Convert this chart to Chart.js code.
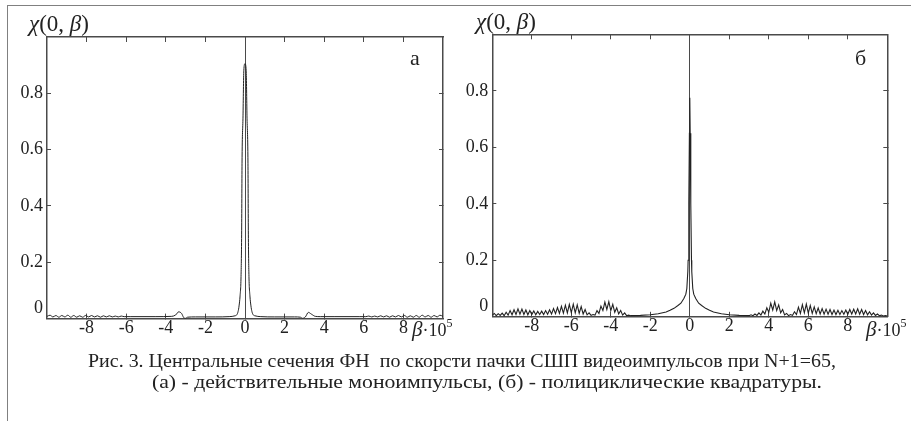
<!DOCTYPE html>
<html>
<head>
<meta charset="utf-8">
<script src="https://cdn.jsdelivr.net/npm/chart.js@4.4.0/dist/chart.umd.min.js"></script>
<style>
  html, body { margin: 0; padding: 0; background: #fff; }
  #page { position: relative; width: 911px; height: 421px; overflow: hidden;
          font-family: "Liberation Serif", "Times New Roman", serif; color: #222; }
  #frame { position: absolute; left: 7px; top: 5px; width: 950px; height: 450px;
           border-left: 1.5px solid #808080; border-top: 1.5px solid #808080; }
  canvas { position: absolute; top: 0; }
  .lbl { position: absolute; white-space: pre; line-height: 1; }
  .chi { font-size: 23px; }
  .beta { font-size: 21px; }
  .beta sup { font-size: 12px; vertical-align: 9px; }
  .beta span { font-size: 18px; }
  .panel { font-size: 22px; }
  .cap { font-size: 19px; transform-origin: 0 50%; }
</style>
</head>
<body>
<div id="page">
  <div id="frame"></div>
  <canvas id="chartA" width="460" height="421" style="left:0"></canvas>
  <canvas id="chartB" width="461" height="421" style="left:450px"></canvas>

  <div class="lbl chi" style="left:29px;top:12px"><i>χ</i>(0, <i>β</i>)</div>
  <div class="lbl chi" style="left:476px;top:10px"><i>χ</i>(0, <i>β</i>)</div>
  <div class="lbl panel" style="left:410px;top:47px">а</div>
  <div class="lbl panel" style="left:855px;top:47px">б</div>
  <div class="lbl beta" style="left:412px;top:317px"><i>β</i><span>·10</span><sup>5</sup></div>
  <div class="lbl beta" style="left:866px;top:317px"><i>β</i><span>·10</span><sup>5</sup></div>

  <div class="lbl cap" data-w="748" style="left:88px;top:351px">Рис. 3. Центральные сечения ФН  по скорсти пачки СШП видеоимпульсов при N+1=65,</div>
  <div class="lbl cap" data-w="670" style="left:152px;top:372px">(а) - действительные моноимпульсы, (б) - полициклические квадратуры.</div>
</div>

<script>
// (а) real monopulses
const betaA = [
  -10.0, -9.85, -9.7, -9.55, -9.4, -9.25, -9.1, -8.95, -8.8, -8.65, -8.5, -8.35, -8.2, -8.05,
  -7.9, -7.75, -7.6, -7.45, -7.3, -7.15, -7.0, -6.85, -6.7, -6.55, -6.4, -6.25, -6.1,
  -5.8, -4.5, -3.7, -3.5, -3.35, -3.2, -3.1, -3.0, -2.9, -2.5, -1.5, -0.8, -0.5,
  -0.42, -0.35, -0.3, -0.25, -0.2, -0.17, -0.15, -0.1, -0.06, 0,
  0.06, 0.1, 0.15, 0.17, 0.2, 0.25, 0.3, 0.35, 0.42,
  0.5, 0.8, 1.5, 2.5, 2.8, 2.9, 3.05, 3.2, 3.35, 3.55, 3.8, 4.5, 5.8,
  6.1, 6.25, 6.4, 6.55, 6.7, 6.85, 7.0, 7.15, 7.3, 7.45, 7.6, 7.75, 7.9,
  8.05, 8.2, 8.35, 8.5, 8.65, 8.8, 8.95, 9.1, 9.25, 9.4, 9.55, 9.7, 9.85, 10.0
];
const chiA = [
  0.008, 0.012, 0.006, 0.011, 0.005, 0.011, 0.006, 0.012, 0.005, 0.011, 0.005, 0.010, 0.005, 0.011,
  0.006, 0.011, 0.006, 0.010, 0.005, 0.010, 0.006, 0.010, 0.006, 0.009, 0.006, 0.009, 0.007,
  0.007, 0.007, 0.008, 0.013, 0.024, 0.018, 0.004, 0.001, 0.005, 0.006, 0.006, 0.007, 0.010,
  0.013, 0.025, 0.045, 0.08, 0.15, 0.3, 0.55, 0.72, 0.88, 0.905,
  0.88, 0.72, 0.55, 0.3, 0.15, 0.08, 0.045, 0.025, 0.013,
  0.010, 0.007, 0.006, 0.006, 0.005, 0.001, 0.006, 0.022, 0.016, 0.008, 0.007, 0.007, 0.007,
  0.007, 0.009, 0.006, 0.009, 0.006, 0.010, 0.006, 0.010, 0.005, 0.010, 0.006, 0.011, 0.006,
  0.011, 0.005, 0.010, 0.005, 0.011, 0.005, 0.012, 0.006, 0.011, 0.005, 0.011, 0.006, 0.012, 0.008
];

// (б) polycyclic quadratures
const betaB = [
  -10.0, -9.9, -9.8, -9.7, -9.6, -9.5, -9.4, -9.3, -9.2, -9.1, -9.0, -8.9, -8.8, -8.7, -8.6,
  -8.5, -8.4, -8.3, -8.2, -8.1, -8.0, -7.9, -7.8, -7.7, -7.6, -7.5, -7.4, -7.3, -7.2, -7.1,
  -7.0, -6.9, -6.8, -6.7, -6.6, -6.5, -6.4, -6.3, -6.2, -6.1, -6.0, -5.9, -5.8, -5.7, -5.6,
  -5.5, -5.4, -5.3, -5.2, -5.1, -5.0, -4.9, -4.8, -4.7, -4.6, -4.5, -4.4, -4.3, -4.2, -4.1,
  -4.0, -3.9, -3.8, -3.7, -3.6, -3.5, -3.4, -3.3, -3.2, -3.1, -3.0,
  -2.5, -2.0, -1.6, -1.2, -1.0, -0.8, -0.6, -0.45, -0.3, -0.2, -0.15, -0.1, -0.085, -0.05, -0.02, 0,
  0.02, 0.05, 0.085, 0.1, 0.15, 0.2, 0.3, 0.45, 0.6, 0.8, 1.0, 1.2, 1.6, 2.0, 2.5,
  3.0, 3.1, 3.2, 3.3, 3.4, 3.5, 3.6, 3.7, 3.8, 3.9, 4.0, 4.1, 4.2, 4.3, 4.4,
  4.5, 4.6, 4.7, 4.8, 4.9, 5.0, 5.1, 5.2, 5.3, 5.4, 5.5, 5.6, 5.7, 5.8, 5.9,
  6.0, 6.1, 6.2, 6.3, 6.4, 6.5, 6.6, 6.7, 6.8, 6.9, 7.0, 7.1, 7.2, 7.3, 7.4,
  7.5, 7.6, 7.7, 7.8, 7.9, 8.0, 8.1, 8.2, 8.3, 8.4, 8.5, 8.6, 8.7, 8.8, 8.9,
  9.0, 9.1, 9.2, 9.3, 9.4, 9.5, 9.6, 9.7, 9.8, 9.9, 10.0
];
const chiB = [
  0.006, 0.012, 0.004, 0.011, 0.005, 0.013, 0.004, 0.016, 0.006, 0.022, 0.007, 0.025, 0.008, 0.028, 0.009,
  0.027, 0.008, 0.024, 0.007, 0.022, 0.008, 0.021, 0.007, 0.019, 0.008, 0.020, 0.008, 0.022, 0.009, 0.025,
  0.010, 0.029, 0.011, 0.033, 0.012, 0.037, 0.013, 0.041, 0.014, 0.044, 0.015, 0.045, 0.014, 0.042, 0.012,
  0.036, 0.010, 0.026, 0.007, 0.014, 0.005, 0.008, 0.006, 0.022, 0.012, 0.038, 0.022, 0.052, 0.026, 0.054,
  0.022, 0.044, 0.016, 0.032, 0.010, 0.022, 0.006, 0.014, 0.004, 0.006, 0.004,
  0.005, 0.007, 0.011, 0.017, 0.023, 0.030, 0.040, 0.048, 0.065, 0.080, 0.100, 0.160, 0.200, 0.400, 0.650, 0.775,
  0.650, 0.400, 0.200, 0.160, 0.100, 0.080, 0.065, 0.048, 0.040, 0.030, 0.023, 0.017, 0.011, 0.007, 0.005,
  0.004, 0.007, 0.004, 0.010, 0.005, 0.014, 0.006, 0.020, 0.010, 0.032, 0.016, 0.048, 0.024, 0.053, 0.022,
  0.042, 0.014, 0.026, 0.007, 0.012, 0.004, 0.008, 0.005, 0.018, 0.008, 0.034, 0.012, 0.043, 0.014, 0.045,
  0.013, 0.040, 0.012, 0.035, 0.011, 0.031, 0.010, 0.029, 0.009, 0.027, 0.009, 0.026, 0.008, 0.024, 0.008,
  0.023, 0.008, 0.022, 0.009, 0.024, 0.009, 0.026, 0.010, 0.027, 0.010, 0.028, 0.009, 0.026, 0.008, 0.022,
  0.007, 0.018, 0.006, 0.014, 0.005, 0.010, 0.004, 0.006, 0.003, 0.004, 0.003
];

const xTicks = [-8, -6, -4, -2, 0, 2, 4, 6, 8];
const yTicks = [0.2, 0.4, 0.6, 0.8];

const AXIS = '#4a4a4a';
const LINE = '#222';
const FONT = { family: '"Liberation Serif", "Times New Roman", serif', size: 18 };

function makePanel(id, betas, chis, area, zeroAt, smooth) {
  const cv = document.getElementById(id);
  const W = cv.width, H = cv.height;
  const yW = 40, xH = 30;
  const setTicks = list => scale => { scale.ticks = list.map(v => ({ value: v })); };

  return new Chart(cv.getContext('2d'), {
    type: 'line',
    data: {
      datasets: [{
        data: betas.map((b, i) => ({ x: b, y: chis[i] })),
        borderColor: LINE,
        borderWidth: smooth ? 1 : 1.1,
        pointRadius: 0,
        fill: false,
        tension: 0,
        cubicInterpolationMode: smooth ? 'monotone' : 'default'
      }]
    },
    options: {
      responsive: false,
      animation: false,
      events: [],
      layout: {
        padding: {
          left: area.left - yW,
          right: W - area.right,
          top: area.top,
          bottom: H - area.bottom - xH
        }
      },
      plugins: { legend: { display: false }, tooltip: { enabled: false } },
      scales: {
        x: {
          type: 'linear', position: 'bottom', min: -10, max: 10,
          afterBuildTicks: setTicks(xTicks),
          afterFit: s => { s.height = xH; },
          grid: {
            drawOnChartArea: true,
            color: c => (c.tick && c.tick.value === 0) ? AXIS : 'rgba(0,0,0,0)',
            lineWidth: 1,
            tickLength: -5, tickColor: AXIS, tickWidth: 1
          },
          border: { display: true, color: AXIS, width: 1.5 },
          ticks: { color: '#222', font: FONT, padding: 4, maxRotation: 0,
                   callback: v => String(v) }
        },
        x2: {
          type: 'linear', position: 'top', min: -10, max: 10,
          afterBuildTicks: setTicks(xTicks),
          afterFit: s => { s.height = 0; },
          grid: { drawOnChartArea: false, tickLength: -5, tickColor: AXIS, tickWidth: 1 },
          border: { display: true, color: AXIS, width: 1.5 },
          ticks: { display: false }
        },
        y: {
          type: 'linear', position: 'left', min: 0, max: 1,
          afterBuildTicks: setTicks([zeroAt].concat(yTicks)),
          afterFit: s => { s.width = yW; },
          grid: { drawOnChartArea: false, tickLength: -4, tickWidth: 1,
                  tickColor: c => (c.tick && c.tick.value < 0.1) ? 'rgba(0,0,0,0)' : AXIS },
          border: { display: true, color: AXIS, width: 1.5 },
          ticks: { color: '#222', font: FONT, padding: 8,
                   callback: v => v < 0.1 ? '0' : v.toFixed(1) }
        },
        y2: {
          type: 'linear', position: 'right', min: 0, max: 1,
          afterBuildTicks: setTicks(yTicks),
          afterFit: s => { s.width = 0; },
          grid: { drawOnChartArea: false, tickLength: -4, tickColor: AXIS, tickWidth: 1 },
          border: { display: true, color: AXIS, width: 1.5 },
          ticks: { display: false }
        }
      }
    }
  });
}

makePanel('chartA', betaA, chiA, { left: 47, right: 443, top: 37, bottom: 318.6 }, 0.035, true);
makePanel('chartB', betaB, chiB, { left: 42.3, right: 437.3, top: 34.3, bottom: 316.8 }, 0.036, false);

// stretch caption lines to the widths they have in the figure
document.querySelectorAll('.cap').forEach(el => {
  const w = el.getBoundingClientRect().width;
  el.style.transform = 'scaleX(' + (Number(el.dataset.w) / w) + ')';
});
</script>
</body>
</html>
